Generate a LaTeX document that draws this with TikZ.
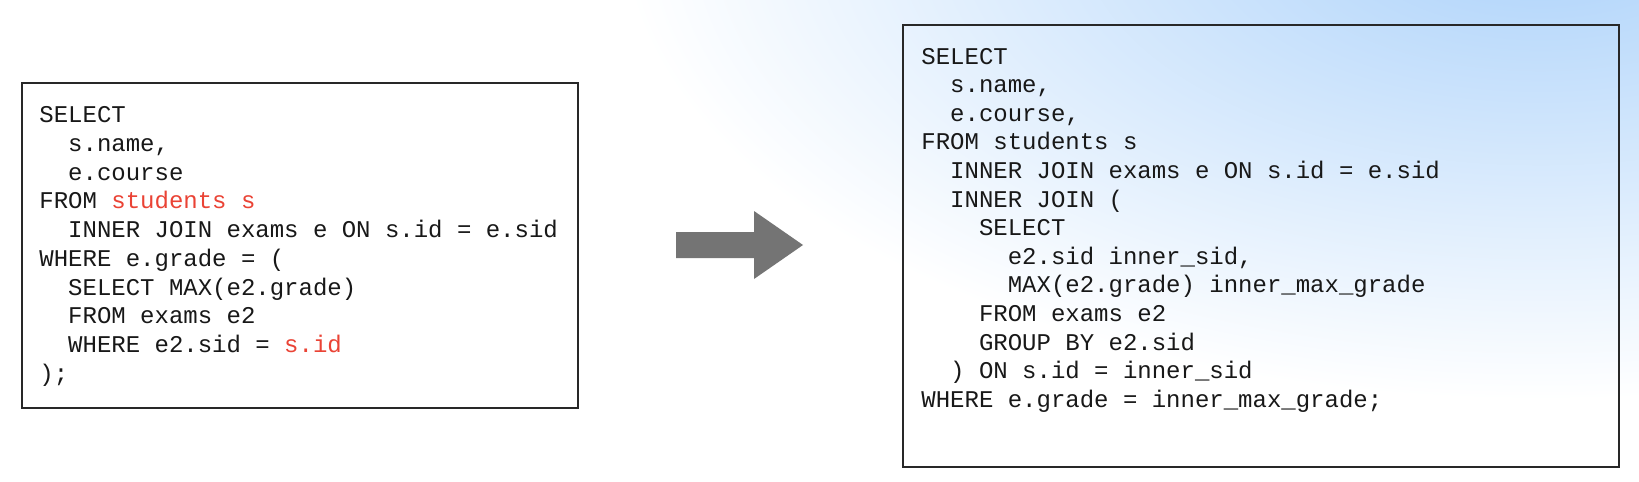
\documentclass[tikz,border=0pt]{standalone}
\usepackage{fontspec}
\setmainfont{Liberation Sans}
\setmonofont{Liberation Mono}
\definecolor{codeblack}{RGB}{24,24,24}
\definecolor{codered}{RGB}{234,67,53}
\definecolor{arrowgray}{RGB}{116,116,116}
\definecolor{bgblue}{RGB}{172,210,250}
\definecolor{boxline}{RGB}{40,40,40}
\tikzset{
  code/.style={anchor=base west, inner sep=0pt, font=\fontsize{12pt}{14pt}\selectfont\ttfamily, text=codeblack},
  codebox/.style={draw=boxline, line width=1pt, inner sep=0pt, anchor=north west},
  bigarrow/.style={fill=arrowgray}
}
\begin{document}
\begin{tikzpicture}[x=0.5pt,y=-0.5pt]
\useasboundingbox (0,0) rectangle (1639,482);
% background
\begin{scope}
  \clip (0,0) rectangle (1639,482);
  \fill[white] (0,0) rectangle (1639,482);
  \shade[inner color=bgblue, outer color=white] (1540,-70) ellipse [x radius=920, y radius=470];
\end{scope}
% boxes
\node[codebox, fill=white, minimum width=278pt, minimum height=162.5pt] (leftbox) at (21,82) {};
\node[codebox, minimum width=358pt, minimum height=221pt] (rightbox) at (902,24) {};
% arrow
\coordinate (arrowtail) at (676,245);
\coordinate (arrowtip) at (803,245);
\fill[bigarrow] (676,232) -- (754,232) -- (754,211) -- (arrowtip) -- (754,279) -- (754,258) -- (676,258) -- cycle;
% left code
\node[code] (L1) at (39,122.5) {SELECT};
\node[code] (L2) at (67.8,151.25) {s.name,};
\node[code] (L3) at (67.8,180) {e.course};
\node[code] (L4) at (39,208.75) {FROM \textcolor{codered}{students s}};
\node[code] (L5) at (67.8,237.5) {INNER JOIN exams e ON s.id = e.sid};
\node[code] (L6) at (39,266.25) {WHERE e.grade = (};
\node[code] (L7) at (67.8,295) {SELECT MAX(e2.grade)};
\node[code] (L8) at (67.8,323.75) {FROM exams e2};
\node[code] (L9) at (67.8,352.5) {WHERE e2.sid = \textcolor{codered}{s.id}};
\node[code] (L10) at (39,381.25) {);};
% right code
\node[code] (R1) at (921,64) {SELECT};
\node[code] (R2) at (949.8,92.6) {s.name,};
\node[code] (R3) at (949.8,121.2) {e.course,};
\node[code] (R4) at (921,149.8) {FROM students s};
\node[code] (R5) at (949.8,178.4) {INNER JOIN exams e ON s.id = e.sid};
\node[code] (R6) at (949.8,207) {INNER JOIN (};
\node[code] (R7) at (978.6,235.6) {SELECT};
\node[code] (R8) at (1007.4,264.2) {e2.sid inner\_sid,};
\node[code] (R9) at (1007.4,292.8) {MAX(e2.grade) inner\_max\_grade};
\node[code] (R10) at (978.6,321.4) {FROM exams e2};
\node[code] (R11) at (978.6,350) {GROUP BY e2.sid};
\node[code] (R12) at (949.8,378.6) {) ON s.id = inner\_sid};
\node[code] (R13) at (921,407) {WHERE e.grade = inner\_max\_grade;};
\end{tikzpicture}
\end{document}
